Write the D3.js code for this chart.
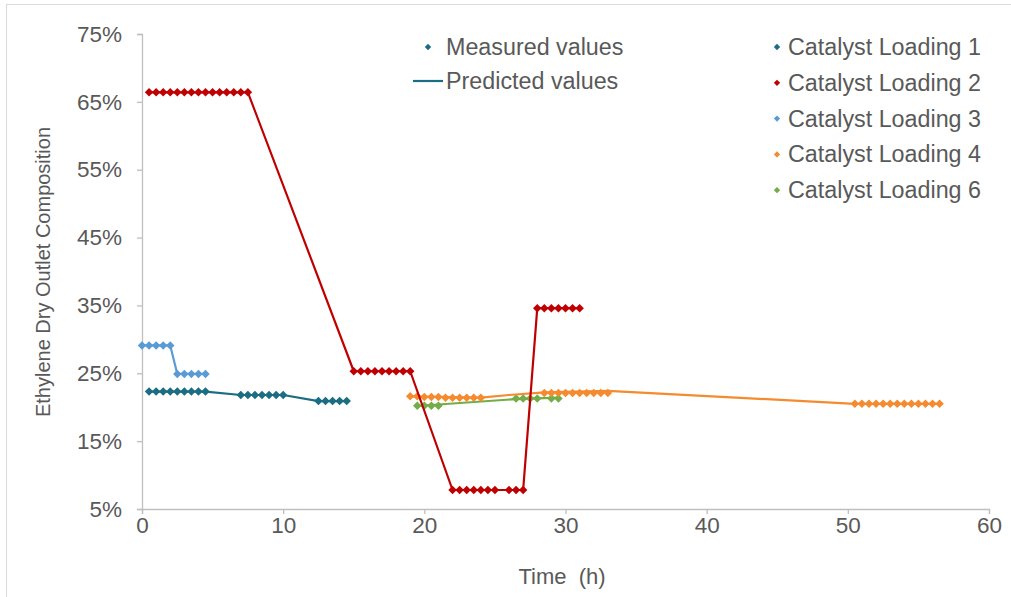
<!DOCTYPE html>
<html>
<head>
<meta charset="utf-8">
<script src="https://cdn.jsdelivr.net/npm/d3@7"></script>
<style>
  html, body { margin: 0; padding: 0; background: #fff; }
  svg { display: block; font-family: "Liberation Sans", Arial, sans-serif; }
</style>
</head>
<body>
<svg id="chart" width="1011" height="597"></svg>
<script>
// Ethylene dry outlet composition (%) over time (h) for several catalyst loadings.
// Measured values are drawn as diamonds, predicted values as lines.

const xTicks = [0, 10, 20, 30, 40, 50, 60];
const yTicks = [5, 15, 25, 35, 45, 55, 65, 75];

const seriesNames = ["Catalyst Loading 1", "Catalyst Loading 2", "Catalyst Loading 3", "Catalyst Loading 4", "Catalyst Loading 6"];
const seriesColors = ["#1A6D82", "#C00000", "#5B9BD5", "#F58B2E", "#72AD47"];

// Catalyst Loading 1
const load1Time  = [0.5, 1, 1.5, 2, 2.5, 3, 3.5, 4, 4.5, 7, 7.5, 8, 8.5, 9, 9.5, 10, 12.5, 13, 13.5, 14, 14.5];
const load1Value = [22.3, 22.3, 22.3, 22.3, 22.3, 22.3, 22.3, 22.3, 22.3, 21.8, 21.8, 21.8, 21.8, 21.8, 21.8, 21.8, 20.9, 20.9, 20.9, 20.9, 20.9];
const load1PredTime  = [0.5, 4.5, 7, 10, 12.5, 14.5];
const load1PredValue = [22.3, 22.3, 21.8, 21.8, 20.9, 20.9];

// Catalyst Loading 2
const load2Time  = [0.5, 1, 1.5, 2, 2.5, 3, 3.5, 4, 4.5, 5, 5.5, 6, 6.5, 7, 7.5,
                    15, 15.5, 16, 16.5, 17, 17.5, 18, 18.5, 19,
                    22, 22.5, 23, 23.5, 24, 24.5, 25, 26, 26.5, 27,
                    28, 28.5, 29, 29.5, 30, 30.5, 31];
const load2Value = [66.4, 66.4, 66.4, 66.4, 66.4, 66.4, 66.4, 66.4, 66.4, 66.4, 66.4, 66.4, 66.4, 66.4, 66.4,
                    25.3, 25.3, 25.3, 25.3, 25.3, 25.3, 25.3, 25.3, 25.3,
                    7.8, 7.8, 7.8, 7.8, 7.8, 7.8, 7.8, 7.8, 7.8, 7.8,
                    34.6, 34.6, 34.6, 34.6, 34.6, 34.6, 34.6];
const load2PredTime  = [0.5, 7.5, 15, 19, 22, 27, 28, 31];
const load2PredValue = [66.4, 66.4, 25.3, 25.3, 7.8, 7.8, 34.6, 34.6];

// Catalyst Loading 3
const load3Time  = [0, 0.5, 1, 1.5, 2, 2.5, 3, 3.5, 4, 4.5];
const load3Value = [29.1, 29.1, 29.1, 29.1, 29.1, 24.9, 24.9, 24.9, 24.9, 24.9];
const load3PredTime  = [0, 2, 2.5, 4.5];
const load3PredValue = [29.1, 29.1, 24.9, 24.9];

// Catalyst Loading 4
const load4Time  = [19, 19.5, 20, 20.5, 21, 21.5, 22, 22.5, 23, 23.5, 24,
                    28.5, 29, 29.5, 30, 30.5, 31, 31.5, 32, 32.5, 33,
                    50.5, 51, 51.5, 52, 52.5, 53, 53.5, 54, 54.5, 55, 55.5, 56, 56.5];
const load4Value = [21.6, 21.6, 21.5, 21.5, 21.5, 21.4, 21.4, 21.4, 21.4, 21.4, 21.4,
                    22.1, 22.1, 22.1, 22.1, 22.1, 22.1, 22.1, 22.1, 22.1, 22.1,
                    20.5, 20.5, 20.5, 20.5, 20.5, 20.5, 20.5, 20.5, 20.5, 20.5, 20.5, 20.5, 20.5];
const load4PredTime  = [19, 24, 26, 28.5, 33, 50.5, 56.5];
const load4PredValue = [21.6, 21.4, 21.8, 22.2, 22.4, 20.5, 20.5];

// Catalyst Loading 6
const load6Time  = [19.5, 20, 20.5, 21, 26.5, 27, 27.5, 28, 29, 29.5];
const load6Value = [20.2, 20.2, 20.2, 20.2, 21.3, 21.3, 21.3, 21.3, 21.3, 21.3];
const load6PredTime  = [19.5, 21, 26.5, 29.5];
const load6PredValue = [20.2, 20.4, 21.2, 21.4];

const measuredTimes  = [load1Time, load2Time, load3Time, load4Time, load6Time];
const measuredValues = [load1Value, load2Value, load3Value, load4Value, load6Value];
const predTimes  = [load1PredTime, load2PredTime, load3PredTime, load4PredTime, load6PredTime];
const predValues = [load1PredValue, load2PredValue, load3PredValue, load4PredValue, load6PredValue];

const svg = d3.select("#chart");
const textColor = "#595959";
const axisColor = "#BFBFBF";
const tickFont = 22.5;
const legendFont = 23.3;

// outer frame
svg.append("rect")
  .attr("x", 6.5).attr("y", 4.5)
  .attr("width", 1100).attr("height", 700)
  .attr("fill", "none").attr("stroke", "#D9D9D9").attr("stroke-width", 1);

const x = d3.scaleLinear().domain([0, 60]).range([142, 989]);
const y = d3.scaleLinear().domain([5, 75]).range([509, 34]);

// y axis
const yAxis = svg.append("g")
  .attr("transform", `translate(${x(0)},0)`)
  .call(d3.axisLeft(y).tickValues(yTicks).tickSize(5).tickPadding(15).tickFormat(d => d + "%"));
yAxis.select(".domain").attr("stroke", axisColor).attr("stroke-width", 1.3);
yAxis.selectAll(".tick line").attr("stroke", axisColor).attr("stroke-width", 1.3);
yAxis.selectAll(".tick text")
  .attr("fill", textColor).attr("font-size", tickFont)
  .attr("font-family", "'Liberation Sans', Arial, sans-serif");

// x axis
const xAxis = svg.append("g")
  .attr("transform", `translate(0,${y(5)})`)
  .call(d3.axisBottom(x).tickValues(xTicks).tickSize(5).tickPadding(3));
xAxis.select(".domain").attr("stroke", axisColor).attr("stroke-width", 1.3);
xAxis.selectAll(".tick line").attr("stroke", axisColor).attr("stroke-width", 1.3);
xAxis.selectAll(".tick text")
  .attr("fill", textColor).attr("font-size", tickFont)
  .attr("font-family", "'Liberation Sans', Arial, sans-serif");

// axis titles
svg.append("text")
  .attr("transform", `translate(50,272) rotate(-90)`)
  .attr("text-anchor", "middle")
  .attr("fill", textColor).attr("font-size", 20)
  .text("Ethylene Dry Outlet Composition");

svg.append("text")
  .attr("x", 562).attr("y", 584)
  .attr("text-anchor", "middle")
  .attr("fill", textColor).attr("font-size", 22)
  .attr("xml:space", "preserve")
  .style("white-space", "pre")
  .text("Time  (h)");

// drawing order: loadings 6, 4, 1, 3, 2
const order = [4, 3, 0, 2, 1];
const line = d3.line().x(d => x(d[0])).y(d => y(d[1]));
const diamond = d3.symbol().type(d3.symbolSquare).size(36);

order.forEach(i => {
  const g = svg.append("g");
  const predPts = d3.zip(predTimes[i], predValues[i]);
  g.append("path")
    .datum(predPts)
    .attr("d", line)
    .attr("fill", "none")
    .attr("stroke", seriesColors[i])
    .attr("stroke-width", 2.2)
    .attr("stroke-linejoin", "round");
  const pts = d3.zip(measuredTimes[i], measuredValues[i]);
  g.selectAll("path.pt")
    .data(pts)
    .join("path")
    .attr("class", "pt")
    .attr("d", diamond)
    .attr("transform", d => `translate(${x(d[0])},${y(d[1])}) rotate(45)`)
    .attr("fill", seriesColors[i]);
});

// legend: marker / line meaning
const leg1 = svg.append("g");
leg1.append("path")
  .attr("d", d3.symbol().type(d3.symbolSquare).size(20))
  .attr("transform", "translate(428,47) rotate(45)")
  .attr("fill", seriesColors[0]);
leg1.append("text").attr("x", 446).attr("y", 55)
  .attr("fill", textColor).attr("font-size", legendFont).text("Measured values");
leg1.append("line")
  .attr("x1", 413).attr("x2", 443).attr("y1", 81).attr("y2", 81)
  .attr("stroke", seriesColors[0]).attr("stroke-width", 2.2);
leg1.append("text").attr("x", 446).attr("y", 89)
  .attr("fill", textColor).attr("font-size", legendFont).text("Predicted values");

// legend: series
const leg2 = svg.append("g");
seriesNames.forEach((name, i) => {
  const cy = 47 + i * 35.8;
  leg2.append("path")
    .attr("d", d3.symbol().type(d3.symbolSquare).size(20))
    .attr("transform", `translate(777,${cy}) rotate(45)`)
    .attr("fill", seriesColors[i]);
  leg2.append("text").attr("x", 788).attr("y", cy + 8)
    .attr("fill", textColor).attr("font-size", legendFont).text(name);
});
</script>
</body>
</html>
